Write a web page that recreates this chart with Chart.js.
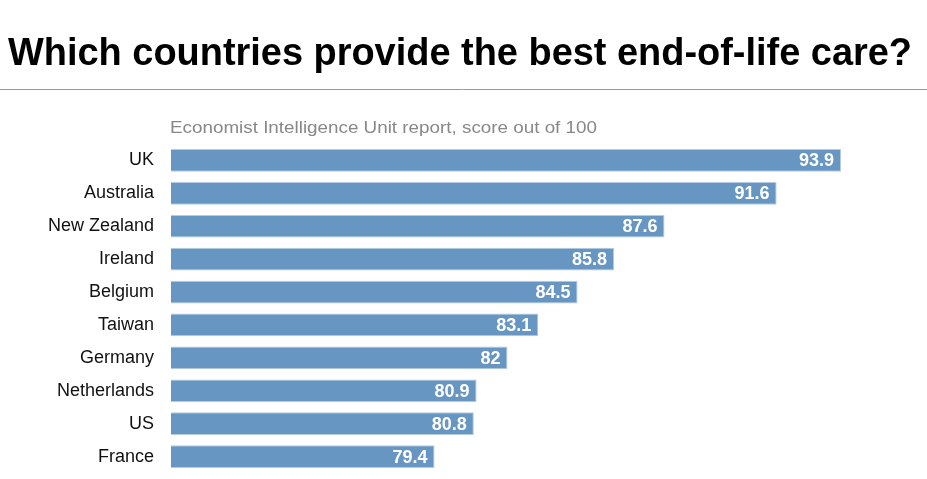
<!DOCTYPE html>
<html>
<head>
<meta charset="utf-8">
<script src="https://cdn.jsdelivr.net/npm/chart.js@4/dist/chart.umd.min.js"></script>
<style>
  html, body { margin: 0; padding: 0; background: #fff; }
  #wrap { width: 927px; height: 479px; position: relative; }
</style>
</head>
<body>
<div id="wrap"><canvas id="myChart" width="927" height="479"></canvas></div>
<script>
var countries = ['UK', 'Australia', 'New Zealand', 'Ireland', 'Belgium', 'Taiwan', 'Germany', 'Netherlands', 'US', 'France'];
var scores = [93.9, 91.6, 87.6, 85.8, 84.5, 83.1, 82, 80.9, 80.8, 79.4];
var titleText = 'Which countries provide the best end-of-life care?';
var subtitleText = 'Economist Intelligence Unit report, score out of 100';

// draw text squeezed horizontally to a given width
function fitText(ctx, text, x, y, width) {
    var w = ctx.measureText(text).width;
    ctx.save();
    ctx.translate(x, y);
    ctx.scale(width / w, 1);
    ctx.fillText(text, 0, 0);
    ctx.restore();
}

var headerPlugin = {
    id: 'header',
    afterDraw: function (chart) {
        var c = chart.ctx;
        c.save();
        c.textBaseline = 'alphabetic';
        c.textAlign = 'left';
        c.fillStyle = '#000';
        c.font = 'bold 38px "Liberation Sans", Arial, sans-serif';
        fitText(c, titleText, 8, 65, 904);
        c.strokeStyle = '#999';
        c.lineWidth = 1;
        c.beginPath();
        c.moveTo(0, 89.5);
        c.lineTo(chart.width, 89.5);
        c.stroke();
        c.fillStyle = '#888';
        c.font = '16px "Liberation Sans", Arial, sans-serif';
        fitText(c, subtitleText, chart.chartArea.left - 1, 133, 427);
        c.restore();
    }
};

var valuePlugin = {
    id: 'values',
    afterDatasetsDraw: function (chart) {
        var c = chart.ctx;
        var meta = chart.getDatasetMeta(0);
        c.save();
        c.fillStyle = '#fff';
        c.font = 'bold 18px "Liberation Sans", Arial, sans-serif';
        c.textAlign = 'right';
        c.textBaseline = 'middle';
        meta.data.forEach(function (bar, i) {
            c.fillText(String(scores[i]), bar.x - 7, bar.y + 1);
        });
        c.restore();
    }
};

var ctx = document.getElementById('myChart').getContext('2d');
var myChart = new Chart(ctx, {
    type: 'bar',
    data: {
        labels: countries,
        datasets: [{
            data: scores,
            backgroundColor: '#6896c3',
            borderColor: '#b4cbe2',
            borderWidth: 1,
            borderSkipped: false,
            categoryPercentage: 1,
            barPercentage: 0.69
        }]
    },
    options: {
        indexAxis: 'y',
        responsive: false,
        animation: false,
        layout: {
            padding: { top: 144, right: 27, bottom: 6, left: 0 }
        },
        plugins: {
            legend: { display: false },
            tooltip: { enabled: false }
        },
        scales: {
            x: {
                display: false,
                min: 70,
                max: 96
            },
            y: {
                grid: { display: false },
                border: { display: false },
                afterFit: function (scale) {
                    scale.width = 171;
                    scale.paddingTop = 0;
                    scale.paddingBottom = 0;
                },
                ticks: {
                    padding: 9,
                    color: '#111',
                    font: { size: 18, family: '"Liberation Sans", Arial, sans-serif' }
                }
            }
        }
    },
    plugins: [headerPlugin, valuePlugin]
});
</script>
</body>
</html>
